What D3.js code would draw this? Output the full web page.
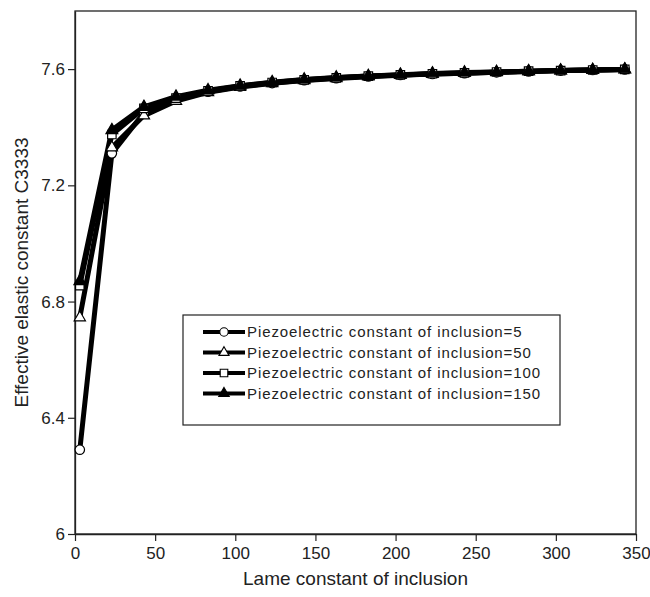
<!DOCTYPE html>
<html>
<head>
<meta charset="utf-8">
<script src="https://cdn.jsdelivr.net/npm/d3@7"></script>
<style>
  html, body { margin: 0; padding: 0; background: #fff; }
  svg { display: block; }
  text { font-family: "Liberation Sans", Arial, sans-serif; fill: #222; }
</style>
</head>
<body>
<svg id="chart" width="650" height="597"></svg>
<script>
// ---- data ----
const lameValues = [3, 23, 43, 63, 83, 103, 123, 143, 163, 183, 203, 223, 243, 263, 283, 303, 323, 343];
const seriesNames = [
  "Piezoelectric constant of inclusion=5",
  "Piezoelectric constant of inclusion=50",
  "Piezoelectric constant of inclusion=100",
  "Piezoelectric constant of inclusion=150"
];
const piezo5   = [6.29, 7.31, 7.45, 7.495, 7.522, 7.540, 7.552, 7.562, 7.569, 7.575, 7.580, 7.583, 7.586, 7.589, 7.592, 7.595, 7.597, 7.599];
const piezo50  = [6.745, 7.33, 7.44, 7.49, 7.520, 7.538, 7.551, 7.561, 7.568, 7.574, 7.579, 7.583, 7.586, 7.589, 7.592, 7.595, 7.597, 7.599];
const piezo100 = [6.855, 7.375, 7.465, 7.50, 7.525, 7.542, 7.554, 7.563, 7.570, 7.576, 7.580, 7.584, 7.587, 7.590, 7.593, 7.595, 7.597, 7.599];
const piezo150 = [6.87, 7.39, 7.47, 7.505, 7.527, 7.543, 7.555, 7.564, 7.571, 7.576, 7.581, 7.585, 7.588, 7.590, 7.593, 7.595, 7.597, 7.599];
const xTickValues = [0, 50, 100, 150, 200, 250, 300, 350];
const yTickValues = [6, 6.4, 6.8, 7.2, 7.6];
const yTickLabels = ["6", "6.4", "6.8", "7.2", "7.6"];
const xTitle = "Lame constant of inclusion";
const yTitle = "Effective elastic constant C3333";

// ---- layout ----
const svg = d3.select("#chart");
const L = 75, R = 636, T = 11, B = 534;
const x = d3.scaleLinear().domain([0, 350]).range([L, R]);
const y = d3.scaleLinear().domain([6, 7.8]).range([B, T]);

// frame
svg.append("rect").attr("x", L).attr("y", T).attr("width", R - L).attr("height", B - T)
  .attr("fill", "none").attr("stroke", "#222").attr("stroke-width", 1.3);

// axes
const xAxis = svg.append("g").attr("transform", `translate(0,${B})`)
  .call(d3.axisBottom(x).tickValues(xTickValues).tickSize(7).tickSizeOuter(0).tickFormat(d3.format("d")));
const yAxis = svg.append("g").attr("transform", `translate(${L},0)`)
  .call(d3.axisLeft(y).tickValues(yTickValues).tickSize(7).tickSizeOuter(0)
    .tickFormat((d, i) => yTickLabels[i]));
[xAxis, yAxis].forEach(g => {
  g.select(".domain").attr("stroke", "#222").attr("stroke-width", 1.3);
  g.selectAll(".tick line").attr("stroke", "#222").attr("stroke-width", 1.2);
  g.selectAll(".tick text").style("font-family", "'Liberation Sans', Arial, sans-serif")
    .style("font-size", "17px").attr("fill", "#222");
});
xAxis.selectAll(".tick text").attr("dy", "0.9em");
yAxis.selectAll(".tick text").attr("x", -10);

// titles
svg.append("text").attr("x", (L + R) / 2).attr("y", 585).attr("text-anchor", "middle")
  .style("font-size", "19px").text(xTitle);
svg.append("text").attr("transform", `translate(28,${(T + B) / 2}) rotate(-90)`)
  .attr("text-anchor", "middle").style("font-size", "19px").text(yTitle);

// series
const seriesData = [piezo5, piezo50, piezo100, piezo150];
const symbols = [
  { type: d3.symbolCircle, size: 70, fill: "#fff" },
  { type: d3.symbolTriangle, size: 55, fill: "#fff" },
  { type: d3.symbolSquare, size: 72, fill: "#fff" },
  { type: d3.symbolTriangle, size: 60, fill: "#000" }
];
const line = d3.line().x((d, i) => x(lameValues[i])).y(d => y(d));
seriesData.forEach((vals, s) => {
  svg.append("path").datum(vals).attr("d", line)
    .attr("fill", "none").attr("stroke", "#000").attr("stroke-width", 5)
    .attr("stroke-linejoin", "round");
});
seriesData.forEach((vals, s) => {
  svg.append("g").selectAll("path").data(vals).join("path")
    .attr("transform", (d, i) => `translate(${x(lameValues[i])},${y(d)})`)
    .attr("d", d3.symbol().type(symbols[s].type).size(symbols[s].size))
    .attr("fill", symbols[s].fill).attr("stroke", "#000").attr("stroke-width", 1.2);
});

// legend
const lg = svg.append("g");
lg.append("rect").attr("x", 183).attr("y", 315).attr("width", 377).attr("height", 110)
  .attr("fill", "#fff").attr("stroke", "#222").attr("stroke-width", 1.2);
seriesNames.forEach((name, s) => {
  const ry = 332 + s * 20.5;
  lg.append("line").attr("x1", 203).attr("x2", 245).attr("y1", ry).attr("y2", ry)
    .attr("stroke", "#000").attr("stroke-width", 4);
  lg.append("path").attr("transform", `translate(224,${ry})`)
    .attr("d", d3.symbol().type(symbols[s].type).size(symbols[s].size * 0.8))
    .attr("fill", symbols[s].fill).attr("stroke", "#000").attr("stroke-width", 1.1);
  lg.append("text").attr("x", 247).attr("y", ry).attr("dy", "0.36em")
    .style("font-size", "15px").style("letter-spacing", "0.9px").text(name);
});
</script>
</body>
</html>
